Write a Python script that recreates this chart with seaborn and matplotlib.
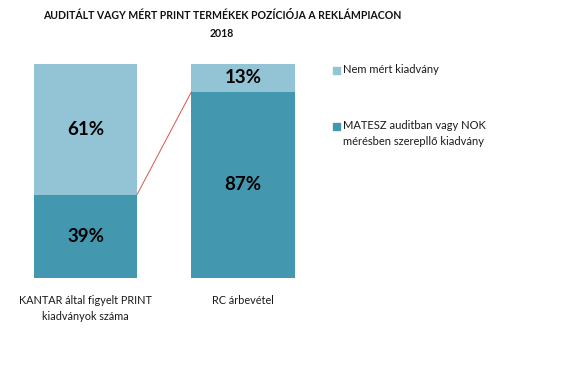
import matplotlib
matplotlib.use("Agg")
import matplotlib.pyplot as plt
import seaborn as sns
import pandas as pd

categories = ["KANTAR által figyelt PRINT\nkiadványok száma", "RC árbevétel"]
measured = [39, 87]      # MATESZ auditban vagy NOK mérésben szereplő kiadvány
not_measured = [61, 13]  # Nem mért kiadvány
series_names = ["Nem mért kiadvány", "MATESZ auditban vagy NOK\nmérésben szerepllő kiadvány"]
title = "AUDITÁLT VAGY MÉRT PRINT TERMÉKEK POZÍCIÓJA A REKLÁMPIACON\n2018"

light = "#93C4D6"
dark = "#4398B0"

sns.set_theme(style="white")
plt.rcParams["font.family"] = ["Lato", "DejaVu Sans"]

W, H = 580, 387
fig = plt.figure(figsize=(W / 100, H / 100), dpi=100)
ax_left, ax_right, ax_top, ax_bot = 6.75, 321.75, 64, 278
ax = fig.add_axes([ax_left / W, 1 - ax_bot / H, (ax_right - ax_left) / W, (ax_bot - ax_top) / H])

df = pd.DataFrame({
    "cat": categories,
    "measured": measured,
    "total": [m + n for m, n in zip(measured, not_measured)],
})
bw = 0.655
sns.barplot(data=df, x="cat", y="total", color=light, width=bw, ax=ax, saturation=1, linewidth=0)
sns.barplot(data=df, x="cat", y="measured", color=dark, width=bw, ax=ax, saturation=1, linewidth=0)

ax.set_xlim(-0.5, 1.5)
ax.set_ylim(0, 100)
for s in ax.spines.values():
    s.set_visible(False)
ax.set_yticks([])
ax.set_ylabel("")
ax.set_xlabel("")
ax.tick_params(axis="x", length=0, pad=12, labelsize=7.8, labelcolor="#1a1a1a")
ax.set_xticks(range(len(categories)))
ax.set_xticklabels(categories, linespacing=1.55)

for i, (m, n) in enumerate(zip(measured, not_measured)):
    ax.text(i, m / 2, f"{m}%", ha="center", va="center", fontsize=13.5, fontweight="bold", color="black")
    ax.text(i, m + n / 2, f"{n}%", ha="center", va="center", fontsize=13.5, fontweight="bold", color="black")

# connector line
ax.plot([0 + bw / 2, 1 - bw / 2], [measured[0], measured[1]], color="#D9534F", lw=0.7, clip_on=False)

fig.text(222 / W, 1 - 10 / H, title, ha="center", va="top", fontsize=7.6, fontweight="bold",
         color="#111111", linespacing=1.8)

# legend
colors = [light, dark]
ys = [70, 126]
for c, y, lbl in zip(colors, ys, series_names):
    fig.patches.append(plt.Rectangle((333 / W, 1 - (y + 3.5) / H), 7 / W, 7 / H,
                                     transform=fig.transFigure, color=c, figure=fig))
    fig.text(343 / W, 1 - (y - 6) / H, lbl, ha="left", va="top", fontsize=8, color="#1a1a1a",
             linespacing=1.55)

fig.savefig("out.png", dpi=100, facecolor="white")
